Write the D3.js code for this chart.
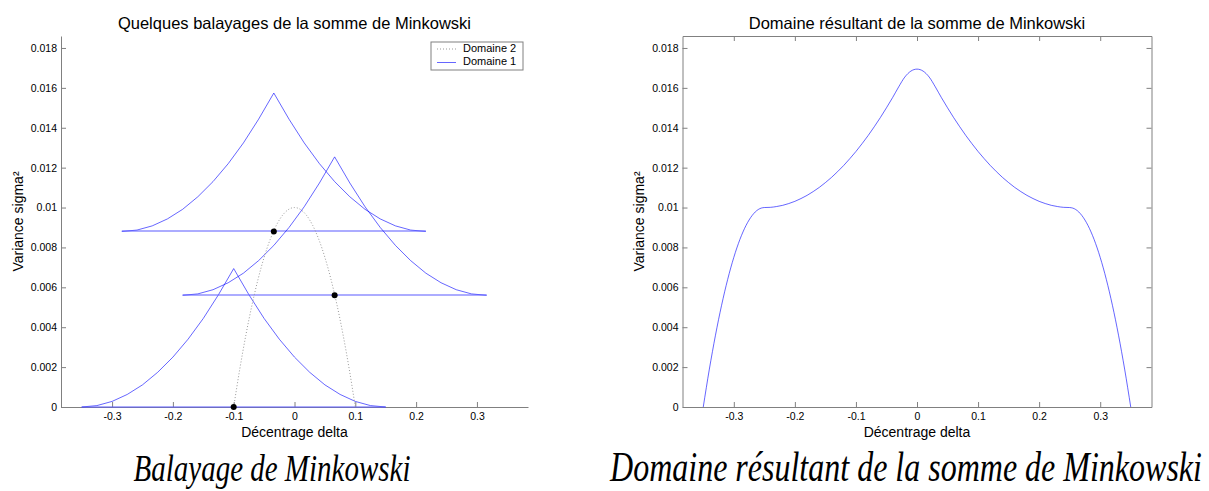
<!DOCTYPE html>
<html>
<head>
<meta charset="utf-8">
<script src="https://cdn.jsdelivr.net/npm/d3@7"></script>
<style>
  html, body { margin: 0; padding: 0; background: #fff; }
  svg { display: block; }
  .tick text { font-family: "Liberation Sans", Arial, sans-serif; font-size: 10.5px; fill: #000; }
  .tick line, .domain { stroke: #808080; }
</style>
</head>
<body>
<svg id="chart" width="1209" height="491"></svg>
<script>
// Domaine 1: offset of delta from the sweep centre, and its variance profile
const domain1Offset = [-0.25, -0.225, -0.2, -0.175, -0.15, -0.125, -0.1, -0.075, -0.05, -0.025, 0,
                       0.025, 0.05, 0.075, 0.1, 0.125, 0.15, 0.175, 0.2, 0.225, 0.25];
const domain1Var = [0, 0.00007, 0.00028, 0.00063, 0.00111, 0.00174, 0.0025, 0.0034, 0.00444, 0.00563, 0.00694,
                    0.00563, 0.00444, 0.0034, 0.0025, 0.00174, 0.00111, 0.00063, 0.00028, 0.00007, 0];

// Domaine 2 boundary
const domain2Delta = [-0.1, -0.09, -0.08, -0.07, -0.06, -0.05, -0.04, -0.03, -0.02, -0.01, 0,
                      0.01, 0.02, 0.03, 0.04, 0.05, 0.06, 0.07, 0.08, 0.09, 0.1];
const domain2Var = [0, 0.0019, 0.0036, 0.0051, 0.0064, 0.0075, 0.0084, 0.0091, 0.0096, 0.0099, 0.01,
                    0.0099, 0.0096, 0.0091, 0.0084, 0.0075, 0.0064, 0.0051, 0.0036, 0.0019, 0];

// Sweep centres taken on Domaine 2
const sweepDelta = [-0.1, -0.034, 0.066];
const sweepVar = [0, 0.0088, 0.0056];

// Upper boundary of the Minkowski sum
const sumDelta = [-0.35, -0.34, -0.33, -0.32, -0.31, -0.3, -0.29, -0.28, -0.27, -0.26, -0.25,
  -0.24, -0.23, -0.22, -0.21, -0.2, -0.19, -0.18, -0.17, -0.16, -0.15, -0.14, -0.13, -0.12, -0.11,
  -0.1, -0.09, -0.08, -0.07, -0.06, -0.05, -0.04, -0.03, -0.02, -0.01, 0,
  0.01, 0.02, 0.03, 0.04, 0.05, 0.06, 0.07, 0.08, 0.09, 0.1, 0.11, 0.12, 0.13, 0.14, 0.15,
  0.16, 0.17, 0.18, 0.19, 0.2, 0.21, 0.22, 0.23, 0.24, 0.25, 0.26, 0.27, 0.28, 0.29, 0.3,
  0.31, 0.32, 0.33, 0.34, 0.35];
const sumVar = [0, 0.0019, 0.0036, 0.0051, 0.0064, 0.0075, 0.0084, 0.0091, 0.0096, 0.0099, 0.01,
  0.01001, 0.01005, 0.01011, 0.0102, 0.01031, 0.01045, 0.01061, 0.0108, 0.01101, 0.01125,
  0.01151, 0.0118, 0.01211, 0.01245, 0.01281, 0.0132, 0.01361, 0.01405, 0.01451, 0.015,
  0.01551, 0.01605, 0.01654, 0.01684, 0.01694,
  0.01684, 0.01654, 0.01605, 0.01551, 0.015, 0.01451, 0.01405, 0.01361, 0.0132, 0.01281,
  0.01245, 0.01211, 0.0118, 0.01151, 0.01125, 0.01101, 0.0108, 0.01061, 0.01045, 0.01031,
  0.0102, 0.01011, 0.01005, 0.01001, 0.01, 0.0099, 0.0096, 0.0091, 0.0084, 0.0075,
  0.0064, 0.0051, 0.0036, 0.0019, 0];

const xTicks = [-0.3, -0.2, -0.1, 0, 0.1, 0.2, 0.3];
const yTicks = [0, 0.002, 0.004, 0.006, 0.008, 0.01, 0.012, 0.014, 0.016, 0.018];

const legendLabels = ["Domaine 2", "Domaine 1"];
const titles = ["Quelques balayages de la somme de Minkowski", "Domaine résultant de la somme de Minkowski"];
const captions = ["Balayage de Minkowski", "Domaine résultant de la somme de Minkowski"];
const xLabel = "Décentrage delta";
const yLabel = "Variance sigma²";

const svg = d3.select("#chart");
const sans = '"Liberation Sans", Arial, sans-serif';
const blue = "#0000ff";

const xDomain = [-0.384, 0.384];
const yDomain = [0, 0.0186];
const yTop = 36, yBottom = 407;

// plain ASCII labels: "-0.3", "0.01", ...
const fmt = v => String(+v.toFixed(3));

function makePanel(left, right, boxed) {
  const x = d3.scaleLinear().domain(xDomain).range([left, right]);
  const y = d3.scaleLinear().domain(yDomain).range([yBottom, yTop]);
  const g = svg.append("g");

  g.append("g").attr("transform", `translate(0,${yBottom})`)
    .call(d3.axisBottom(x).tickValues(xTicks).tickSizeInner(-5).tickSizeOuter(0).tickPadding(6).tickFormat(fmt));
  g.append("g").attr("transform", `translate(${left},0)`)
    .call(d3.axisLeft(y).tickValues(yTicks).tickSizeInner(-5).tickSizeOuter(0).tickPadding(4).tickFormat(fmt));
  if (boxed) {
    g.append("g").attr("transform", `translate(0,${yTop})`)
      .call(d3.axisTop(x).tickValues(xTicks).tickSizeInner(-5).tickSizeOuter(0).tickFormat(""));
    g.append("g").attr("transform", `translate(${right},0)`)
      .call(d3.axisRight(y).tickValues(yTicks).tickSizeInner(-5).tickSizeOuter(0).tickFormat(""));
  }

  const cx = (left + right) / 2;
  g.append("text").attr("x", cx).attr("y", 433).attr("text-anchor", "middle")
    .attr("dominant-baseline", "middle")
    .style("font-family", sans).style("font-size", "14px").text(xLabel);
  g.append("text").attr("transform", `translate(${left - 42},${(yTop + yBottom) / 2}) rotate(-90)`)
    .attr("text-anchor", "middle").attr("dominant-baseline", "middle")
    .style("font-family", sans).style("font-size", "14px").text(yLabel);
  return { x, y, g, cx };
}

// ---- Left panel: sweeps of Domaine 1 along Domaine 2 ----
const L = makePanel(61, 528, false);
L.g.append("text").attr("x", L.cx).attr("y", 29).attr("text-anchor", "middle")
  .style("font-family", sans).style("font-size", "16.5px").text(titles[0]);

const curveLine = d3.line().x(d => L.x(d[0])).y(d => L.y(d[1]));

sweepDelta.forEach((d0, i) => {
  const v0 = sweepVar[i];
  // the profile of Domaine 1 placed on the sweep centre
  const pts = domain1Offset.map((o, k) => [d0 + o, v0 + domain1Var[k]]);
  L.g.append("path").attr("d", curveLine(pts))
    .attr("fill", "none").attr("stroke", blue).attr("stroke-opacity", 0.6).attr("stroke-width", 1);
  // its base
  const yb = Math.round(L.y(v0));
  L.g.append("line")
    .attr("x1", L.x(d0 + domain1Offset[0])).attr("x2", L.x(d0 + domain1Offset[domain1Offset.length - 1]))
    .attr("y1", yb).attr("y2", yb)
    .attr("stroke", "#5a5aff").attr("stroke-width", 1.2);
});

L.g.append("path")
  .attr("d", d3.line().x(d => L.x(d[0])).y(d => L.y(d[1])).curve(d3.curveMonotoneX)(domain2Delta.map((d, k) => [d, domain2Var[k]])))
  .attr("fill", "none").attr("stroke", "#999").attr("stroke-width", 1).attr("stroke-dasharray", "1,2");

L.g.selectAll("circle.sweep").data(sweepDelta).join("circle")
  .attr("cx", d => L.x(d)).attr("cy", (d, i) => L.y(sweepVar[i])).attr("r", 3).attr("fill", "#000");

// legend
const lg = L.g.append("g").attr("transform", "translate(431,42)");
lg.append("rect").attr("width", 92).attr("height", 28).attr("fill", "#fff").attr("stroke", "#808080");
legendLabels.forEach((lab, i) => {
  const yy = 7 + i * 13.5;
  lg.append("line").attr("x1", 6).attr("x2", 25).attr("y1", yy).attr("y2", yy)
    .attr("stroke", i === 0 ? "#999" : blue).attr("stroke-opacity", i === 0 ? 1 : 0.6)
    .attr("stroke-dasharray", i === 0 ? "1,2" : null);
  lg.append("text").attr("x", 32).attr("y", yy).attr("dominant-baseline", "middle")
    .style("font-family", sans).style("font-size", "11px").text(lab);
});

// ---- Right panel: resulting domain ----
const R = makePanel(682.5, 1151.5, true);
R.g.append("text").attr("x", R.cx).attr("y", 29).attr("text-anchor", "middle")
  .style("font-family", sans).style("font-size", "16.5px").text(titles[1]);

R.g.append("path")
  .attr("d", d3.line().x(d => R.x(d[0])).y(d => R.y(d[1])).curve(d3.curveMonotoneX)(sumDelta.map((d, k) => [d, sumVar[k]])))
  .attr("fill", "none").attr("stroke", blue).attr("stroke-opacity", 0.6).attr("stroke-width", 1);

// ---- Captions (tall, narrow italic serif) ----
const serif = '"Liberation Serif", "Times New Roman", serif';
[[272, 29, captions[0]], [906, 32, captions[1]]].forEach(([cx, size, txt]) => {
  svg.append("text").attr("transform", `translate(${cx},481) scale(1,1.3)`)
    .attr("text-anchor", "middle")
    .style("font-family", serif).style("font-style", "italic").style("font-size", size + "px").text(txt);
});
</script>
</body>
</html>
